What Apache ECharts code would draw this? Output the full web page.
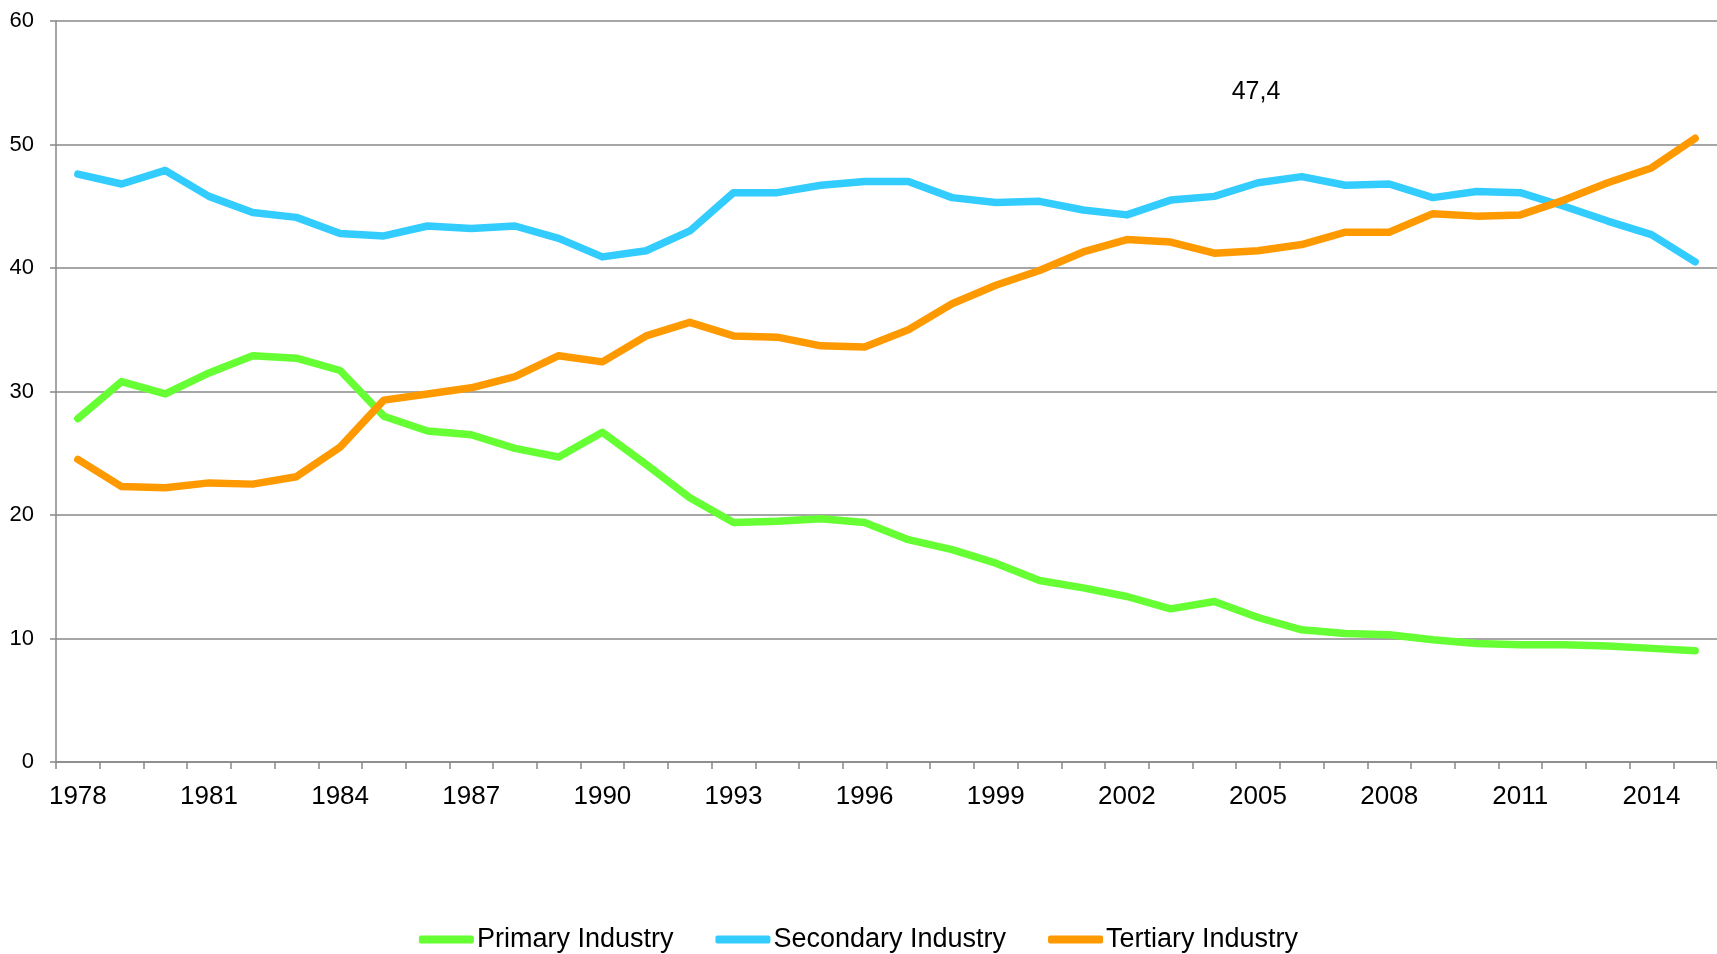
<!DOCTYPE html>
<html>
<head>
<meta charset="utf-8">
<title>Industry shares</title>
<script src="https://cdn.jsdelivr.net/npm/echarts@6/dist/echarts.min.js"></script>
<style>
  html, body { margin: 0; padding: 0; background: #fff; }
  #main { width: 1717px; height: 954px; }
</style>
</head>
<body>
<div id="main"></div>
<script>
// 数据
const years = []
for (let y = 1978; y <= 2015; y++) years.push(String(y))

const primary = [27.8, 30.8, 29.8, 31.5, 32.9, 32.7, 31.7, 28.0, 26.8, 26.5, 25.4, 24.7, 26.7, 24.1, 21.4, 19.4,
  19.5, 19.7, 19.4, 18.0, 17.2, 16.1, 14.7, 14.1, 13.4, 12.4, 13.0, 11.7, 10.7, 10.4, 10.3, 9.9,
  9.6, 9.5, 9.5, 9.4, 9.2, 9.0]
const secondary = [47.6, 46.8, 47.9, 45.8, 44.5, 44.1, 42.8, 42.6, 43.4, 43.2, 43.4, 42.4, 40.9, 41.4, 43.0, 46.1,
  46.1, 46.7, 47.0, 47.0, 45.7, 45.3, 45.4, 44.7, 44.3, 45.5, 45.8, 46.9, 47.4, 46.7, 46.8, 45.7,
  46.2, 46.1, 45.0, 43.8, 42.7, 40.5]
const tertiary = [24.5, 22.3, 22.2, 22.6, 22.5, 23.1, 25.5, 29.3, 29.8, 30.3, 31.2, 32.9, 32.4, 34.5, 35.6, 34.5,
  34.4, 33.7, 33.6, 35.0, 37.1, 38.6, 39.8, 41.3, 42.3, 42.1, 41.2, 41.4, 41.9, 42.9, 42.9, 44.4,
  44.2, 44.3, 45.5, 46.9, 48.1, 50.5]

const seriesNames = ['Primary Industry', 'Secondary Industry', 'Tertiary Industry']
const colors = ['#66ff33', '#33ccff', '#ff9900']
const note = '47,4'

const font = 'Liberation Sans, Arial, sans-serif'

function line (name, data, color) {
  return {
    name: name,
    type: 'line',
    data: data,
    symbol: 'none',
    color: color,
    lineStyle: { width: 7.5, color: color, cap: 'round', join: 'round' }
  }
}

const chart = echarts.init(document.getElementById('main'))
chart.setOption({
  animation: false,
  textStyle: { fontFamily: font },
  grid: { left: 56, right: -8, top: 21, bottom: 192, containLabel: false },
  legend: {
    top: 921,
    left: 'center',
    icon: 'roundRect',
    itemWidth: 55,
    itemHeight: 8,
    itemGap: 42,
    textStyle: { fontSize: 27, color: '#000', fontFamily: font, padding: [0, 0, 0, -2] },
    data: seriesNames
  },
  xAxis: {
    type: 'category',
    data: years,
    boundaryGap: true,
    axisLine: { lineStyle: { color: '#888', width: 1.5 } },
    axisTick: { show: true, interval: 0, length: 7, lineStyle: { color: '#888', width: 1.5 } },
    axisLabel: { interval: 2, fontSize: 26, color: '#000', margin: 22, fontFamily: font },
    splitLine: { show: false }
  },
  yAxis: {
    type: 'value',
    min: 0,
    max: 60,
    interval: 10,
    axisLine: { show: true, lineStyle: { color: '#888', width: 1.5 } },
    axisTick: { show: true, length: 6, lineStyle: { color: '#888', width: 1.5 } },
    axisLabel: { fontSize: 22, color: '#000', margin: 22, fontFamily: font },
    splitLine: { lineStyle: { color: '#888', width: 1.5 } }
  },
  graphic: [{
    type: 'text',
    x: 1256,
    y: 92,
    style: { text: note, fontSize: 25, fill: '#000', align: 'center', verticalAlign: 'middle', font: '25px ' + font }
  }],
  series: [
    line(seriesNames[0], primary, colors[0]),
    line(seriesNames[1], secondary, colors[1]),
    line(seriesNames[2], tertiary, colors[2])
  ]
})
</script>
</body>
</html>
